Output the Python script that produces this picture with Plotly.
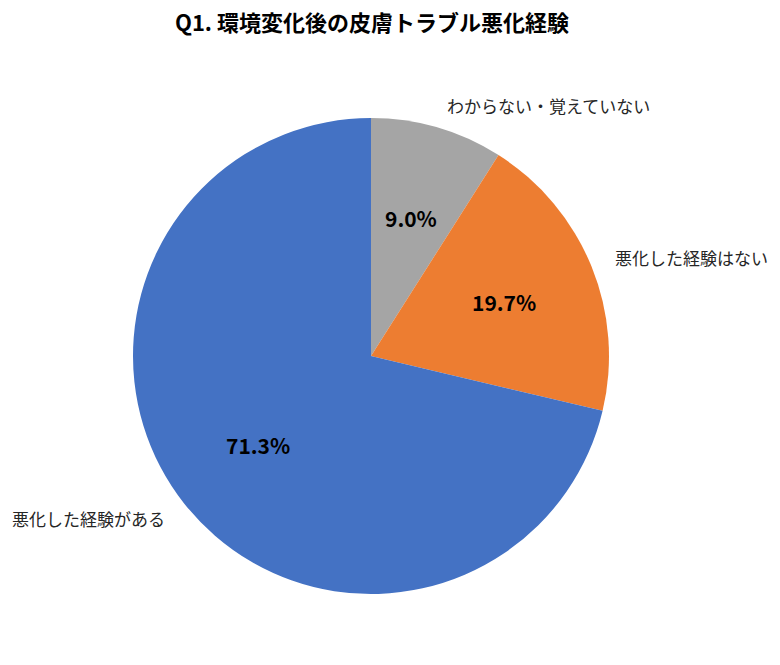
import math
import plotly.graph_objects as go

# slices in drawing order, clockwise from 12 o'clock
labels = ["わからない・覚えていない", "悪化した経験はない", "悪化した経験がある"]
values = [9.0, 19.7, 71.3]
colors = ["#A5A5A5", "#ED7D31", "#4472C4"]

TITLE = "Q1. 環境変化後の皮膚トラブル悪化経験"
FONT = "Noto Sans CJK JP"

W, H = 780, 665
# pie geometry in pixels (figure coords)
CX, CY, R = 363, 348, 238
# where each category label sits (pixel centre, figure coords)
label_pos = [(540, 97), (683, 249), (80, 511)]


def px(x, y):
    return x / W, 1 - y / H


fig = go.Figure()

fig.add_trace(go.Pie(
    labels=labels,
    values=values,
    sort=False,
    direction="clockwise",
    rotation=0,
    domain=dict(x=[(CX - R) / W, (CX + R) / W],
                y=[1 - (CY + R) / H, 1 - (CY - R) / H]),
    marker=dict(colors=colors, line=dict(width=0)),
    textinfo="none",
    hovertemplate="%{label}: %{value:.1f}%<extra></extra>",
    showlegend=False,
))

# percentage labels at 0.6R on each slice's mid angle
total = sum(values)
cum = 0
for v in values:
    mid = (cum + v / 2) / total * 2 * math.pi
    cum += v
    x, y = px(CX + 0.605 * R * math.sin(mid), CY - 0.605 * R * math.cos(mid))
    fig.add_annotation(
        x=x, y=y, xref="paper", yref="paper",
        xanchor="center", yanchor="middle",
        text=f"<b>{v:.1f}%</b>", showarrow=False,
        font=dict(family=FONT, size=21, color="#000000"),
    )

# category labels outside the pie
for lab, (lx, ly) in zip(labels, label_pos):
    x, y = px(lx, ly)
    fig.add_annotation(
        x=x, y=y, xref="paper", yref="paper",
        xanchor="center", yanchor="middle",
        text=lab, showarrow=False,
        font=dict(family=FONT, size=17, color="#262626"),
    )

fig.update_layout(
    title=dict(
        text=f"<b>{TITLE}</b>",
        x=364 / W, xanchor="center",
        y=1 - 15 / H, yanchor="middle",
        font=dict(family=FONT, size=22, color="#000000"),
    ),
    width=W,
    height=H,
    margin=dict(l=0, r=0, t=0, b=0),
    paper_bgcolor="#FFFFFF",
    plot_bgcolor="#FFFFFF",
    showlegend=False,
)

fig.write_html("out.html")
